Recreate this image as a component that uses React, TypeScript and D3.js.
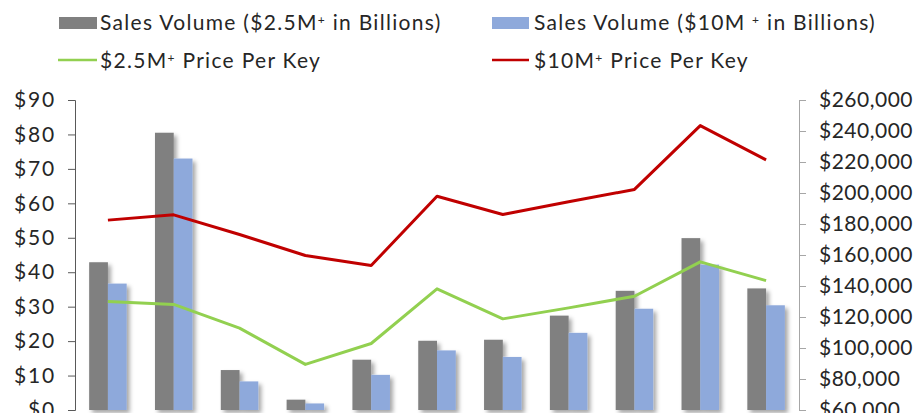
import React, { useRef, useEffect } from 'react'
import * as d3 from 'd3'

// chart data
const years = ['2007', '2008', '2009', '2010', '2011', '2012', '2013', '2014', '2015', '2016', '2017']
const volume25 = [42.9, 80.5, 11.6, 3.0, 14.6, 20.1, 20.4, 27.4, 34.6, 49.9, 35.3]
const volume10 = [36.7, 73.0, 8.3, 1.9, 10.2, 17.3, 15.4, 22.4, 29.4, 42.2, 30.4]
const price25 = [130000, 128100, 112800, 89400, 102900, 138200, 118800, 125900, 133400, 155600, 143500]
const price10 = [182500, 185900, 173200, 159700, 153200, 197900, 186100, 194300, 202300, 243500, 221400]
const leftTicks = [0, 10, 20, 30, 40, 50, 60, 70, 80, 90]
const rightTicks = [60000, 80000, 100000, 120000, 140000, 160000, 180000, 200000, 220000, 240000, 260000]

const W = 922
const H = 413
const margin = { top: 100, right: 123, bottom: 3, left: 75 }
const FONT = 'Lato, "Open Sans", sans-serif'
const TEXT = '#262626'

const GRAY = '#808080'
const BLUE = '#8EA9DB'
const GREEN = '#92D050'
const RED = '#C00000'

// label with a small raised "+"
const Label = ({ x, y, parts }) => (
  <text x={x} y={y} fontFamily={FONT} fontSize={21} fill={TEXT} letterSpacing={1.3}>
    {parts.map((p, i) =>
      p === '+' ? (
        <tspan key={i} fontSize={12} dy={-6}>+</tspan>
      ) : (
        <tspan key={i} dy={i > 0 && parts[i - 1] === '+' ? 6 : 0}>{p}</tspan>
      )
    )}
  </text>
)

const App = () => {
  const leftAxisEl = useRef(null)
  const rightAxisEl = useRef(null)

  const x0 = d3.scaleBand().domain(years).range([margin.left, W - margin.right]).paddingInner(0.43).paddingOuter(0.215)
  const x1 = d3.scaleBand().domain(['a', 'b']).range([0, x0.bandwidth()])
  const yL = d3.scaleLinear().domain([0, 90]).range([H - margin.bottom, margin.top])
  const yR = d3.scaleLinear().domain([60000, 260000]).range([H - margin.bottom, margin.top])

  useEffect(() => {
    const fmt = d3.format('$,')
    const la = d3.select(leftAxisEl.current)
    la.call(d3.axisLeft(yL).tickValues(leftTicks).tickFormat(d => '$' + d).tickSize(7).tickPadding(12))
    la.select('.domain').attr('stroke', '#595959')
    la.selectAll('.tick line').attr('stroke', '#595959')
    la.selectAll('text').attr('font-family', FONT).attr('font-size', 21).attr('fill', TEXT).attr('letter-spacing', 1.8)

    const ra = d3.select(rightAxisEl.current)
    ra.call(d3.axisRight(yR).tickValues(rightTicks).tickFormat(fmt).tickSize(7).tickPadding(13))
    ra.select('.domain').attr('stroke', '#A6A6A6')
    ra.selectAll('.tick line').attr('stroke', '#A6A6A6')
    ra.selectAll('text').attr('font-family', FONT).attr('font-size', 21).attr('fill', TEXT).attr('letter-spacing', 0.5)
  }, [])

  const line25 = d3.line().x((d, i) => x0(years[i]) + x0.bandwidth() / 2).y(d => yR(d))

  return (
    <svg width={W} height={H} style={{ position: 'absolute', left: 0, top: 0 }}>
      <defs>
        <filter id="shadow" x="-20%" y="-10%" width="160%" height="130%">
          <feDropShadow dx="3" dy="3" stdDeviation="2" floodColor="#000" floodOpacity="0.35" />
        </filter>
      </defs>

      {/* legend */}
      <rect x={59} y={17} width={38} height={12} fill={GRAY} />
      <Label x={100} y={30} parts={['Sales Volume ($2.5M', '+', ' in Billions)']} />
      <rect x={492} y={17} width={37} height={12} fill={BLUE} />
      <Label x={534} y={30} parts={['Sales Volume ($10M ', '+', ' in Billions)']} />
      <line x1={58} x2={97} y1={60} y2={60} stroke={GREEN} strokeWidth={2.5} />
      <Label x={100} y={68} parts={['$2.5M', '+', ' Price Per Key']} />
      <line x1={492} x2={529} y1={60} y2={60} stroke={RED} strokeWidth={2.5} />
      <Label x={534} y={68} parts={['$10M', '+', ' Price Per Key']} />

      {/* bars */}
      <g filter="url(#shadow)">
        {years.map((yr, i) => (
          <g key={yr} transform={`translate(${x0(yr)},0)`}>
            <rect x={x1('a')} y={yL(volume25[i])} width={x1.bandwidth()} height={yL(0) - yL(volume25[i])} fill={GRAY} />
            <rect x={x1('b')} y={yL(volume10[i])} width={x1.bandwidth()} height={yL(0) - yL(volume10[i])} fill={BLUE} />
          </g>
        ))}
      </g>

      {/* lines */}
      <path d={line25(price25)} fill="none" stroke={GREEN} strokeWidth={3} strokeLinejoin="round" />
      <path d={line25(price10)} fill="none" stroke={RED} strokeWidth={3} strokeLinejoin="round" />

      <g ref={leftAxisEl} transform={`translate(${margin.left},0)`} />
      <g ref={rightAxisEl} transform={`translate(${W - margin.right},0)`} />
    </svg>
  )
}

export default App
